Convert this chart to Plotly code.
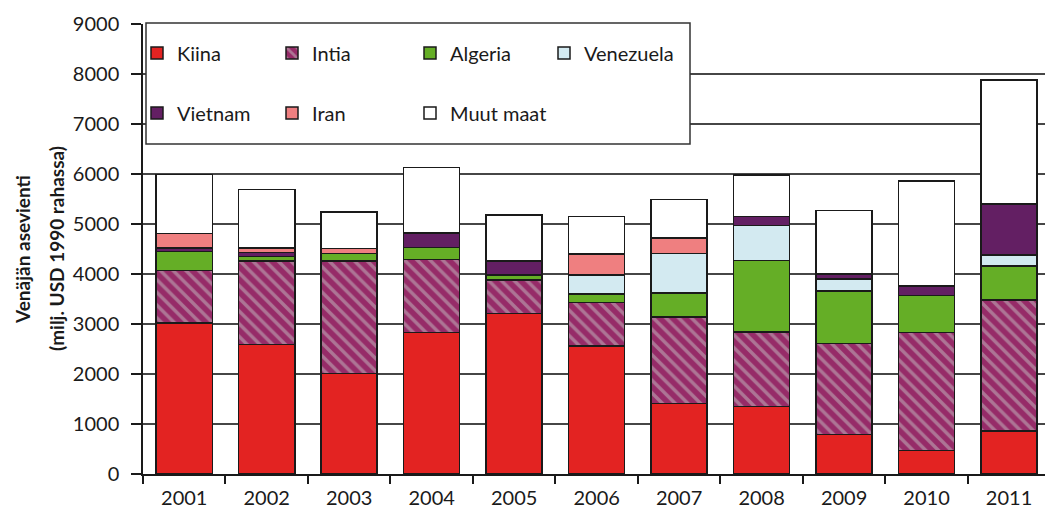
import plotly.graph_objects as go

years = ["2001", "2002", "2003", "2004", "2005", "2006", "2007", "2008", "2009", "2010", "2011"]
kiina = [3020, 2590, 2010, 2830, 3210, 2560, 1410, 1350, 790, 470, 860]
intia = [1050, 1670, 2250, 1460, 670, 870, 1730, 1490, 1820, 2360, 2620]
algeria = [380, 90, 150, 240, 100, 170, 480, 1430, 1050, 740, 680]
venezuela = [0, 0, 0, 0, 0, 370, 790, 700, 240, 0, 220]
vietnam = [70, 80, 0, 290, 280, 20, 0, 180, 100, 190, 1020]
iran = [290, 90, 100, 0, 0, 410, 310, 0, 0, 0, 0]
muut = [1180, 1170, 730, 1310, 920, 750, 770, 830, 1270, 2100, 2480]

FONT = "Lato"
TXT = "#1a1a1a"
EDGE = dict(color="#1a1a1a", width=1.5)

W0, W1 = 143, 1045
H0, H1 = 24, 474
def px_x(p):
    return (p - W0) / (W1 - W0)
def px_y(p):
    return (H1 - p) / (H1 - H0)

# (name, values, marker, legend text start px, legend row centre px)
series = [
    ("Kiina", kiina, dict(color="#E32322"), 175, 53),
    ("Intia", intia, dict(color="#962B68", pattern=dict(shape="\\", fgcolor="#C4C0C2", bgcolor="#962B68", size=9, solidity=0.38)), 310, 53),
    ("Algeria", algeria, dict(color="#65AE26"), 448, 53),
    ("Venezuela", venezuela, dict(color="#D3EAF1"), 582, 53),
    ("Vietnam", vietnam, dict(color="#631F63"), 175, 113),
    ("Iran", iran, dict(color="#EF7F80"), 310, 113),
    ("Muut maat", muut, dict(color="#FFFFFF"), 448, 113),
]

fig = go.Figure()
legends = {}
for i, (name, vals, mk, tx, ty) in enumerate(series):
    lid = "legend" if i == 0 else f"legend{i + 1}"
    mk = dict(mk)
    mk["line"] = EDGE
    fig.add_trace(go.Bar(x=years, y=vals, name=name, marker=mk, legend=lid, showlegend=True))
    legends[lid] = dict(
        x=px_x(tx - 38), y=px_y(ty), xanchor="left", yanchor="middle",
        orientation="h", bgcolor="rgba(0,0,0,0)", borderwidth=0,
        font=dict(family=FONT, size=20, color=TXT),
    )

fig.update_layout(
    width=1045, height=521,
    showlegend=True,
    margin=dict(l=143, r=0, t=24, b=47, autoexpand=False),
    paper_bgcolor="white", plot_bgcolor="white",
    barmode="stack", bargap=0.32,
    font=dict(family=FONT, size=20, color=TXT),
    xaxis=dict(
        type="category", range=[-0.5, 10.436], automargin=False,
        showline=True, linecolor="#1a1a1a", linewidth=1.5,
        ticks="outside", tickson="boundaries", ticklen=8, tickcolor="#1a1a1a", tickwidth=1.5,
        showgrid=False, ticklabelstandoff=5,
        tickfont=dict(family=FONT, size=20, color=TXT),
    ),
    yaxis=dict(
        range=[0, 9000], dtick=1000, automargin=False,
        showline=True, linecolor="#1a1a1a", linewidth=1.5,
        ticks="outside", ticklen=10, tickcolor="#1a1a1a", tickwidth=1.5,
        showgrid=True, gridcolor="#464646", gridwidth=1.5,
        zeroline=False, ticklabelstandoff=8,
        tickfont=dict(family=FONT, size=20, color=TXT),
    ),
    shapes=[dict(
        type="rect", xref="paper", yref="paper",
        x0=px_x(146), x1=px_x(690), y0=px_y(144), y1=px_y(23),
        fillcolor="white", line=dict(color="#333333", width=1.5), layer="above",
    )],
    annotations=[
        dict(text="<b>Venäjän asevienti</b>", xref="paper", yref="paper",
             x=px_x(22), y=0.5, xanchor="center", yanchor="middle", textangle=-90,
             showarrow=False, font=dict(family=FONT, size=19, color=TXT)),
        dict(text="<b>(milj. USD 1990 rahassa)</b>", xref="paper", yref="paper",
             x=px_x(56), y=0.5, xanchor="center", yanchor="middle", textangle=-90,
             showarrow=False, font=dict(family=FONT, size=19, color=TXT)),
    ],
)
fig.update_layout(**legends)

fig.write_html("out.html", config={"displayModeBar": False},
               post_script="document.body.style.margin='0';")
